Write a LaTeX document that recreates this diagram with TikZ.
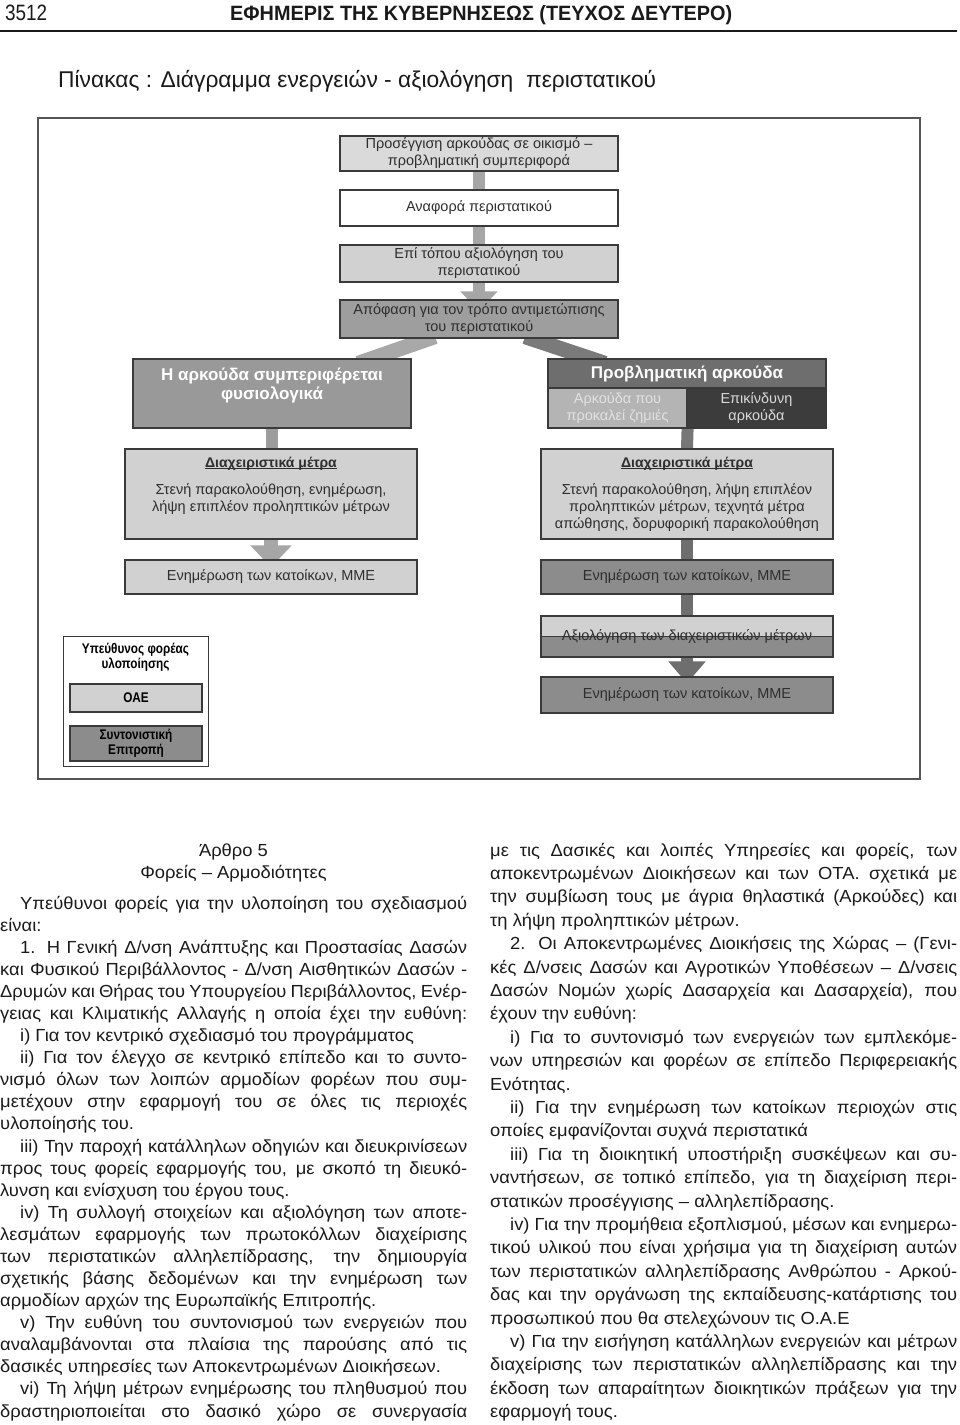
\documentclass[tikz,border=0pt]{standalone}
\usepackage{fontspec}
\setmainfont{Liberation Sans}
\newfontfamily\narr[FakeStretch=0.84]{Liberation Sans}
\newfontfamily\bodyf[FakeStretch=1.05,WordSpace={1,1,1.8}]{Liberation Sans}
\usepackage{graphicx}
\usepackage{tikz}
\usetikzlibrary{calc,arrows.meta}
\pgfdeclarelayer{bg}
\pgfsetlayers{bg,main}
\newlength\colw \setlength\colw{467pt}
\newcommand\JL[1]{\makebox[\colw][s]{#1}}
\newcommand\LF[1]{\makebox[\colw][l]{#1}}
\newcommand\indd{\hspace*{20pt}}
\newcommand\ulx[1]{\setbox0\hbox{#1}\rlap{\rule[-2.2pt]{\wd0}{0.8pt}}\box0}
\definecolor{gA}{HTML}{DADADA}
\definecolor{gB}{HTML}{D1D1D1}
\definecolor{gC}{HTML}{9E9E9E}
\definecolor{gD}{HTML}{999999}
\definecolor{gE}{HTML}{6E6E6E}
\definecolor{gF}{HTML}{B4B4B4}
\definecolor{gG}{HTML}{3C3C3C}
\definecolor{gH}{HTML}{8C8C8C}
\definecolor{barA}{HTML}{A6A6A6}
\definecolor{barL}{HTML}{A8A8A8}
\definecolor{barR}{HTML}{7A7A7A}
\definecolor{barLv}{HTML}{9C9C9C}
\definecolor{barRv}{HTML}{777777}
\definecolor{barRd}{HTML}{6E6E6E}
\definecolor{bline}{HTML}{3A3A3A}
\definecolor{btext}{HTML}{2E2E2E}
\definecolor{bodyc}{HTML}{1A1A1A}
\definecolor{framec}{HTML}{555555}
\begin{document}
\begin{tikzpicture}[x=1pt,y=-1pt,
  box/.style={draw=bline, line width=1.2pt, inner sep=0pt, align=center, text=btext, font=\fontsize{14.5}{17}\selectfont},
  btitle/.style={font=\bfseries\fontsize{17}{19}\selectfont, text=white, align=center, inner sep=0pt},
  intext/.style={font=\fontsize{14.5}{17}\selectfont, text=btext, align=center, inner sep=0pt},
  lgtext/.style={font=\narr\bfseries\fontsize{14}{15}\selectfont, text=black, align=center, inner sep=0pt},
  body/.style={font=\bodyf\fontsize{17.5}{21}\selectfont, inner sep=0pt, anchor=base west, text=bodyc},
  bar/.style={line width=12pt}]
\useasboundingbox (0,0) rectangle (960,1425);

% header
\node[inner sep=0pt, anchor=base west, text=bodyc] (pg) at (5,20) {\resizebox{42pt}{15.5pt}{3512}};
\node[inner sep=0pt, anchor=base west, text=bodyc] (hd) at (230,20) {\resizebox{502pt}{15pt}{\bfseries ΕΦΗΜΕΡΙΣ ΤΗΣ ΚΥΒΕΡΝΗΣΕΩΣ (ΤΕΥΧΟΣ ΔΕΥΤΕΡΟ)}};
\draw[line width=2.2pt, bodyc] (0,31) -- (957,31);
\node[inner sep=0pt, anchor=base west, text=bodyc] (cap) at (58,87) {\resizebox{598pt}{!}{\fontsize{18}{18}\selectfont Πίνακας : Διάγραμμα ενεργειών - αξιολόγηση\ \ περιστατικού}};

% frame
\draw[framec, line width=1.3pt] (38,118) rectangle (920,779);

% flow boxes
\node[box, fill=gA, minimum width=278pt, minimum height=35pt] (b1) at (479,153.5) {Προσέγγιση αρκούδας σε οικισμό –\\προβληματική συμπεριφορά};
\node[box, fill=white, minimum width=278pt, minimum height=36pt] (b2) at (479,208) {Αναφορά περιστατικού};
\node[box, fill=gB, minimum width=278pt, minimum height=37pt] (b3) at (479,263.5) {Επί τόπου αξιολόγηση του\\περιστατικού};
\node[box, fill=gC, minimum width=278pt, minimum height=38pt] (b4) at (479,319) {Απόφαση για τον τρόπο αντιμετώπισης\\του περιστατικού};

\node[box, fill=gD, minimum width=278pt, minimum height=69pt] (b5) at (272,393.5) {};
\node[btitle] (b5t) at (272,385) {Η αρκούδα συμπεριφέρεται\\φυσιολογικά};
\node[box, fill=gE, minimum width=278pt, minimum height=29pt, btitle] (b6) at (687,373.5) {Προβληματική αρκούδα};
\node[box, fill=gF, minimum width=139pt, minimum height=40pt, text=gA!80!white] (b6a) at (617.5,408) {Αρκούδα που\\προκαλεί ζημιές};
\node[box, fill=gG, minimum width=139pt, minimum height=40pt, text=gA] (b6b) at (756.5,408) {Επικίνδυνη\\αρκούδα};

\node[box, fill=gB, minimum width=292pt, minimum height=90pt] (b7) at (271,494) {};
\node[intext, font=\bfseries\fontsize{14}{16}\selectfont, anchor=base] (b7t) at (271,467) {\ulx{Διαχειριστικά μέτρα}};
\node[intext] (b7x) at (271,499) {Στενή παρακολούθηση, ενημέρωση,\\λήψη επιπλέον προληπτικών μέτρων};
\node[box, fill=gB, minimum width=292pt, minimum height=90pt] (b8) at (687,494) {};
\node[intext, font=\bfseries\fontsize{14}{16}\selectfont, anchor=base] (b8t) at (687,467) {\ulx{Διαχειριστικά μέτρα}};
\node[intext] (b8x) at (687,508) {Στενή παρακολούθηση, λήψη επιπλέον\\προληπτικών μέτρων, τεχνητά μέτρα\\απώθησης, δορυφορική παρακολούθηση};

\node[box, fill=gB, minimum width=292pt, minimum height=34pt] (b9) at (271,577) {Ενημέρωση των κατοίκων, ΜΜΕ};
\node[box, fill=gH, minimum width=292pt, minimum height=34pt] (b10) at (687,577) {Ενημέρωση των κατοίκων, ΜΜΕ};
\node[box, fill=gB, minimum width=292pt, minimum height=41pt,
  path picture={\fill[gH] (path picture bounding box.west) rectangle (path picture bounding box.south east);
  \draw[bline, line width=1pt] (path picture bounding box.west) -- (path picture bounding box.east);}] (b11) at (687,636.5) {Αξιολόγηση των διαχειριστικών μέτρων};
\node[box, fill=gH, minimum width=292pt, minimum height=36pt] (b12) at (687,695) {Ενημέρωση των κατοίκων, ΜΜΕ};

% legend
\node[draw=bline, line width=1pt, fill=white, minimum width=145pt, minimum height=130pt] (lg) at (135.5,701) {};
\node[lgtext] (lgt) at (135.5,657) {Υπεύθυνος φορέας\\υλοποίησης};
\node[box, fill=gB, minimum width=132pt, minimum height=28pt, lgtext] (oae) at (136,698) {ΟΑΕ};
\node[box, fill=gH, minimum width=132pt, minimum height=35pt, lgtext] (syn) at (136,743.5) {Συντονιστική\\Επιτροπή};

% connectors
\begin{pgfonlayer}{bg}
\fill[white] (0,0) rectangle (960,1425);
\draw[bar, barA] (b1.south) -- (b2.north);
\draw[bar, barA] (b2.south) -- (b3.north);
\draw[bar, barA, -{Triangle[width=36pt,length=20pt]}] (b3.south) -- ($(b4.north)+(0,12)$);
\draw[line width=15pt, barL] ($(b4.south)+(-44,-2)$) -- ($(b5.north)+(86,5)$);
\draw[line width=15pt, barR] ($(b4.south)+(46,-2)$) -- ($(b6.north)+(-82,5)$);
\draw[bar, barLv] (b5.south) -- (b5.south |- b7.north);
\draw[bar, barRv] (b6a.south east) -- (b8.north);
\draw[line width=14pt, barA, -{Triangle[width=40pt,length=22pt]}] (b7.south) -- ($(b9.north)+(0,8)$);
\draw[bar, barRd] (b8.south) -- (b10.north);
\draw[bar, barRd] (b10.south) -- (b11.north);
\draw[bar, barRd, -{Triangle[width=36pt,length=22pt]}] (b11.south) -- ($(b12.north)+(0,7)$);
\end{pgfonlayer}

% body text, left column
\node[body, anchor=base] (h1) at (233.5,856) {Άρθρο 5};
\node[body, anchor=base] (h2) at (233.5,878) {Φορείς – Αρμοδιότητες};
\foreach \t [count=\i from 0] in {
{\JL{\indd Υπεύθυνοι φορείς για την υλοποίηση του σχεδιασμού}},
{\LF{είναι:}},
{\JL{\indd 1. Η Γενική Δ/νση Ανάπτυξης και Προστασίας Δασών}},
{\JL{και Φυσικού Περιβάλλοντος - Δ/νση Αισθητικών Δασών -}},
{\JL{Δρυμών και Θήρας του Υπουργείου Περιβάλλοντος, Ενέρ-}},
{\JL{γειας και Κλιματικής Αλλαγής η οποία έχει την ευθύνη:}},
{\LF{\indd i) Για τον κεντρικό σχεδιασμό του προγράμματος}},
{\JL{\indd ii) Για τον έλεγχο σε κεντρικό επίπεδο και το συντο-}},
{\JL{νισμό όλων των λοιπών αρμοδίων φορέων που συμ-}},
{\JL{μετέχουν στην εφαρμογή του σε όλες τις περιοχές}},
{\LF{υλοποίησής του.}},
{\JL{\indd iii) Την παροχή κατάλληλων οδηγιών και διευκρινίσεων}},
{\JL{προς τους φορείς εφαρμογής του, με σκοπό τη διευκό-}},
{\LF{λυνση και ενίσχυση του έργου τους.}},
{\JL{\indd iv) Τη συλλογή στοιχείων και αξιολόγηση των αποτε-}},
{\JL{λεσμάτων εφαρμογής των πρωτοκόλλων διαχείρισης}},
{\JL{των περιστατικών αλληλεπίδρασης, την δημιουργία}},
{\JL{σχετικής βάσης δεδομένων και την ενημέρωση των}},
{\LF{αρμοδίων αρχών της Ευρωπαϊκής Επιτροπής.}},
{\JL{\indd v) Την ευθύνη του συντονισμού των ενεργειών που}},
{\JL{αναλαμβάνονται στα πλαίσια της παρούσης από τις}},
{\LF{δασικές υπηρεσίες των Αποκεντρωμένων Διοικήσεων.}},
{\JL{\indd vi) Τη λήψη μέτρων ενημέρωσης του πληθυσμού που}},
{\JL{δραστηριοποιείται στο δασικό χώρο σε συνεργασία}}}
\node[body] (L\i) at (0,{909+\i*22.09}) {\t};

% body text, right column
\foreach \t [count=\i from 0] in {
{\JL{με τις Δασικές και λοιπές Υπηρεσίες και φορείς, των}},
{\JL{αποκεντρωμένων Διοικήσεων και των ΟΤΑ. σχετικά με}},
{\JL{την συμβίωση τους με άγρια θηλαστικά (Αρκούδες) και}},
{\LF{τη λήψη προληπτικών μέτρων.}},
{\JL{\indd 2. Οι Αποκεντρωμένες Διοικήσεις της Χώρας – (Γενι-}},
{\JL{κές Δ/νσεις Δασών και Αγροτικών Υποθέσεων – Δ/νσεις}},
{\JL{Δασών Νομών χωρίς Δασαρχεία και Δασαρχεία), που}},
{\LF{έχουν την ευθύνη:}},
{\JL{\indd i) Για το συντονισμό των ενεργειών των εμπλεκόμε-}},
{\JL{νων υπηρεσιών και φορέων σε επίπεδο Περιφερειακής}},
{\LF{Ενότητας.}},
{\JL{\indd ii) Για την ενημέρωση των κατοίκων περιοχών στις}},
{\LF{οποίες εμφανίζονται συχνά περιστατικά}},
{\JL{\indd iii) Για τη διοικητική υποστήριξη συσκέψεων και συ-}},
{\JL{ναντήσεων, σε τοπικό επίπεδο, για τη διαχείριση περι-}},
{\LF{στατικών προσέγγισης – αλληλεπίδρασης.}},
{\JL{\indd iv) Για την προμήθεια εξοπλισμού, μέσων και ενημερω-}},
{\JL{τικού υλικού που είναι χρήσιμα για τη διαχείριση αυτών}},
{\JL{των περιστατικών αλληλεπίδρασης Ανθρώπου - Αρκού-}},
{\JL{δας και την οργάνωση της εκπαίδευσης-κατάρτισης του}},
{\LF{προσωπικού που θα στελεχώνουν τις Ο.Α.Ε}},
{\JL{\indd v) Για την εισήγηση κατάλληλων ενεργειών και μέτρων}},
{\JL{διαχείρισης των περιστατικών αλληλεπίδρασης και την}},
{\JL{έκδοση των απαραίτητων διοικητικών πράξεων για την}},
{\LF{εφαρμογή τους.}}}
\node[body] (R\i) at (490,{856+\i*23.4}) {\t};
\end{tikzpicture}
\end{document}
